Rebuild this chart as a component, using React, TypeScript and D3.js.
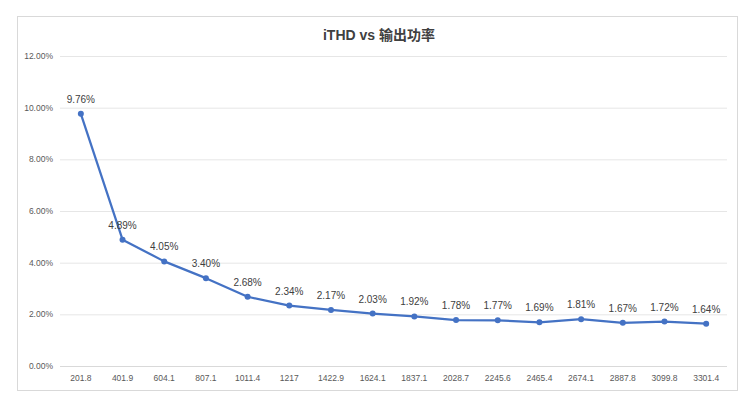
import React from "react";
import * as d3 from "d3";

const categories = ["201.8","401.9","604.1","807.1","1011.4","1217","1422.9","1624.1","1837.1","2028.7","2245.6","2465.4","2674.1","2887.8","3099.8","3301.4"];
const ithd = [9.76,4.89,4.05,3.40,2.68,2.34,2.17,2.03,1.92,1.78,1.77,1.69,1.81,1.67,1.72,1.64];
const yTicks = [0,2,4,6,8,10,12];
const title = "iTHD vs 输出功率";

export default function App() {
  const W = 750, H = 400;
  const left = 60, right = 727, top = 56, bottom = 366;
  const x = d3.scaleBand<string>().domain(categories).range([left, right]);
  const y = d3.scaleLinear().domain([0, 12]).range([bottom, top]);
  const cx = (c: string) => (x(c) as number) + x.bandwidth() / 2;
  const line = d3.line<number>().x((_, i) => cx(categories[i])).y(d => y(d));
  const font = "'Liberation Sans', 'Noto Sans', sans-serif";
  return (
    <svg width={W} height={H} style={{ position: "absolute", left: 0, top: 0 }}>
      <rect x={0} y={0} width={W} height={H} fill="#fff" />
      <rect x={17.5} y={16.5} width={720} height={374} fill="#fff" stroke="#d9d9d9" />
      <text x={379} y={40} textAnchor="middle" fontSize={14} fontWeight="bold" fill="#404040" fontFamily="'Liberation Sans', 'Noto Sans CJK SC', sans-serif">{title}</text>
      {yTicks.map(t => (
        <g key={t}>
          {t > 0 && <line x1={left} x2={right} y1={y(t) + 0.5} y2={y(t) + 0.5} stroke="#e6e6e6" />}
          <text x={53} y={y(t) + 3} textAnchor="end" fontSize={8.5} fill="#595959" fontFamily={font}>{t.toFixed(2) + "%"}</text>
        </g>
      ))}
      <line x1={left} x2={right} y1={bottom + 0.5} y2={bottom + 0.5} stroke="#d9d9d9" />
      {categories.map(c => (
        <text key={c} x={cx(c)} y={381} textAnchor="middle" fontSize={8.5} fill="#595959" fontFamily={font}>{c}</text>
      ))}
      <path d={line(ithd) || ""} fill="none" stroke="#4472c4" strokeWidth={2.25} strokeLinejoin="round" />
      {ithd.map((v, i) => (
        <g key={i}>
          <circle cx={cx(categories[i])} cy={y(v)} r={3} fill="#4472c4" />
          <text x={cx(categories[i])} y={y(v) - 11} textAnchor="middle" fontSize={10} fill="#404040" fontFamily={font}>{v.toFixed(2) + "%"}</text>
        </g>
      ))}
    </svg>
  );
}
